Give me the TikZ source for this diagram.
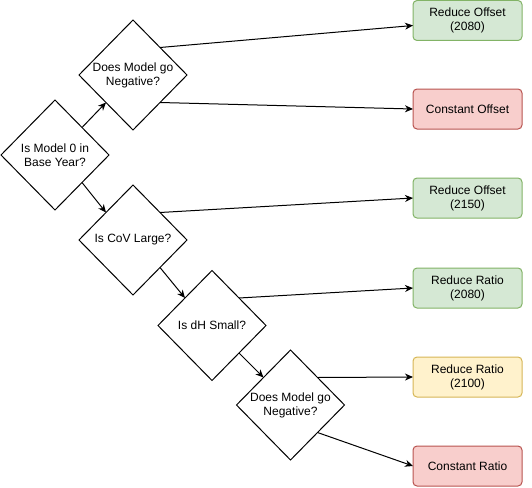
\documentclass[tikz,border=0pt]{standalone}
\usepackage{fontspec}
\setmainfont{Liberation Sans}
\usetikzlibrary{shapes.geometric,arrows.meta,calc}
\definecolor{gfill}{HTML}{D5E8D4}\definecolor{gdraw}{HTML}{82B366}
\definecolor{rfill}{HTML}{F8CECC}\definecolor{rdraw}{HTML}{B85450}
\definecolor{yfill}{HTML}{FFF2CC}\definecolor{ydraw}{HTML}{D6B656}
\tikzset{
  dec/.style={diamond, draw=black, line width=1pt, minimum width=108pt, minimum height=110pt,
    inner sep=0pt, outer sep=0pt, align=center, font=\fontsize{12}{14}\selectfont},
  box/.style={rectangle, rounded corners=4pt, line width=1pt, minimum width=109pt, minimum height=40pt,
    inner sep=0pt, outer sep=0pt, align=center, font=\fontsize{12}{14}\selectfont},
  gbox/.style={box, fill=gfill, draw=gdraw},
  rbox/.style={box, fill=rfill, draw=rdraw},
  ybox/.style={box, fill=yfill, draw=ydraw},
  conn/.style={line width=1pt, -{Stealth[length=8pt,width=7pt,inset=2.5pt]}}
}
\begin{document}
\begin{tikzpicture}[x=1pt,y=-1pt]
\useasboundingbox (0,0) rectangle (532,487);
\node[dec] (d1) at (55,155) {Is Model 0 in\\Base Year?};
\node[dec] (d2) at (133,75) {Does Model go\\Negative?};
\node[dec] (d3) at (133,240) {Is CoV Large?};
\node[dec] (d4) at (212,325.5) {Is dH Small?};
\node[dec] (d5) at (290.5,405) {Does Model go\\Negative?};
\node[gbox] (r1) at (467.5,20.5) {Reduce Offset\\(2080)};
\node[rbox] (r2) at (467.5,109) {Constant Offset};
\node[gbox] (r3) at (467.5,198) {Reduce Offset\\(2150)};
\node[gbox] (r4) at (467.5,288) {Reduce Ratio\\(2080)};
\node[ybox] (r5) at (467.5,377) {Reduce Ratio\\(2100)};
\node[rbox] (r6) at (467.5,466) {Constant Ratio};
\draw[conn] ($(d1.north)!0.5!(d1.east)$) -- ($(d2.south)!0.5!(d2.west)$);
\draw[conn] ($(d1.south)!0.5!(d1.east)$) -- ($(d3.north)!0.5!(d3.west)$);
\draw[conn] ($(d3.south)!0.5!(d3.east)$) -- ($(d4.north)!0.5!(d4.west)$);
\draw[conn] ($(d4.south)!0.5!(d4.east)$) -- ($(d5.north)!0.5!(d5.west)$);
\draw[conn] ($(d2.north)!0.5!(d2.east)$) -- ([yshift=-5pt]r1.west);
\draw[conn] ($(d2.south)!0.5!(d2.east)$) -- (r2.west);
\draw[conn] ($(d3.north)!0.5!(d3.east)$) -- (r3.west);
\draw[conn] ($(d4.north)!0.5!(d4.east)$) -- (r4.west);
\draw[conn] ($(d5.north)!0.5!(d5.east)$) -- (r5.west);
\draw[conn] ($(d5.south)!0.5!(d5.east)$) -- (r6.west);
\end{tikzpicture}
\end{document}
